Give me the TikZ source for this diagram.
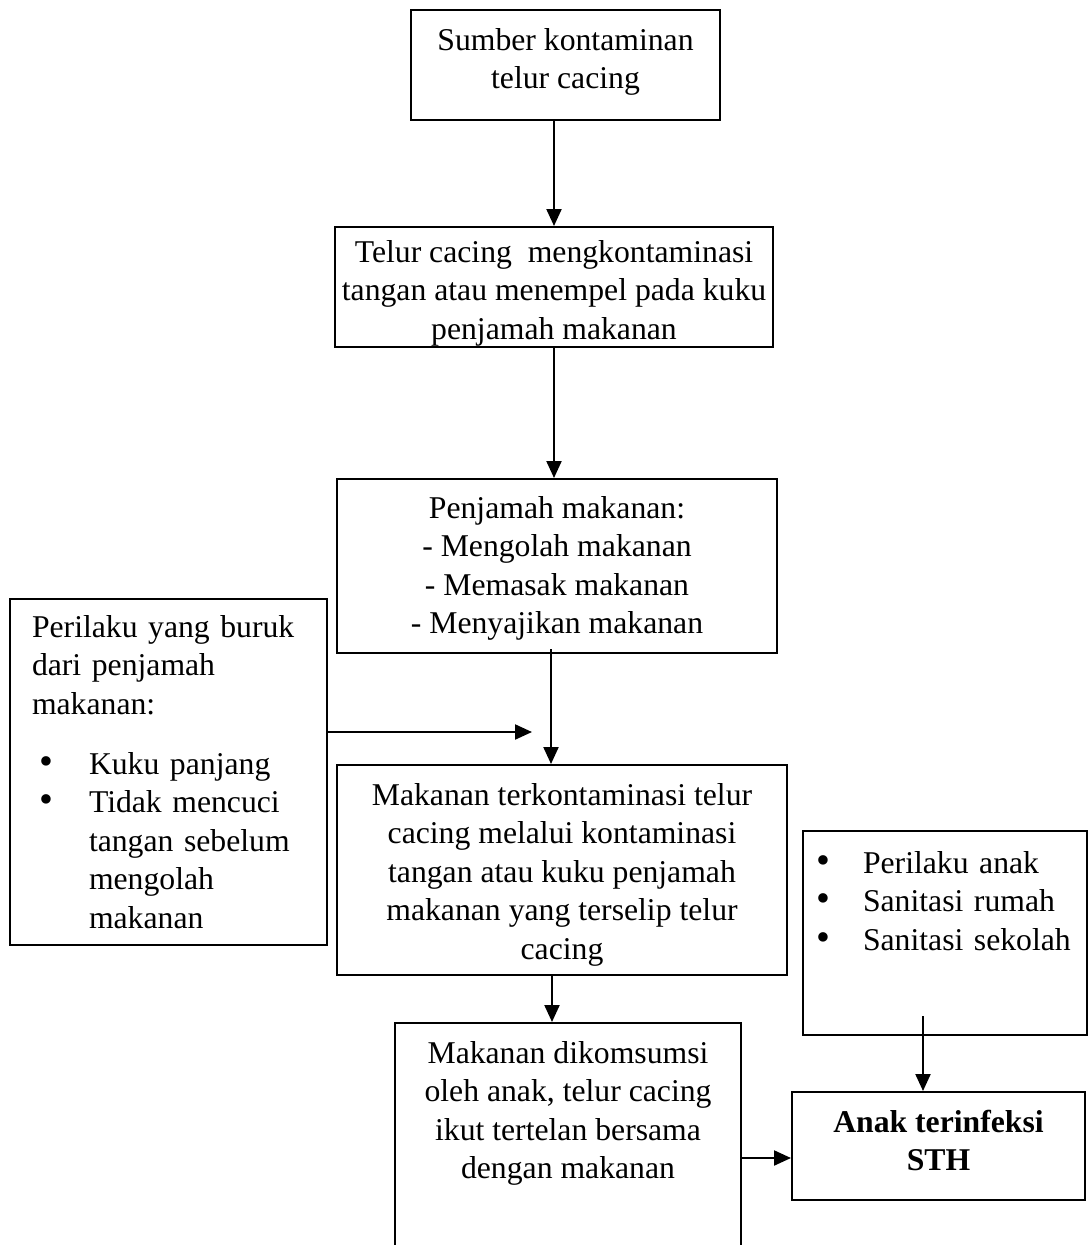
\documentclass[tikz,border=0pt]{standalone}
\usepackage{fontspec}
\setmainfont{Liberation Serif}
\usetikzlibrary{arrows.meta,calc}
\newcommand{\blt}[2]{\makebox[#2][l]{\hspace*{#1}\scalebox{1.25}{\textbullet}}}

\begin{document}
\begin{tikzpicture}[x=1pt, y=-1pt,
    every node/.style={font=\fontsize{31.7}{38.5}\selectfont},
    box/.style={draw, line width=2pt, inner ysep=0pt, anchor=base},
    cbox/.style={box, align=center, inner xsep=2pt},
    arr/.style={-{Triangle[length=17pt,width=15pt]}, line width=2.2pt}]
    \useasboundingbox (0,0) rectangle (1089,1245);
    \clip (0,0) rectangle (1089,1245);

    % main chain (placed at the baseline of the last line)
    \node[cbox, minimum width=309pt, text height=78.5pt, text depth=31.5pt] (src) at (565.5,88.5) {Sumber kontaminan\\telur cacing};
    \node[cbox, minimum width=438pt, text height=112pt, text depth=8pt] (hand) at (554,339) {Telur cacing\ \ mengkontaminasi\\tangan atau menempel pada kuku\\penjamah makanan};
    \node[cbox, minimum width=440pt, text height=154.5pt, text depth=19.5pt] (serve) at (557,633.5) {Penjamah makanan:\\- Mengolah makanan\\- Memasak makanan\\- Menyajikan makanan};
    \node[cbox, minimum width=450pt, text height=194pt, text depth=16pt] (food) at (562,959) {Makanan terkontaminasi telur\\cacing melalui kontaminasi\\tangan atau kuku penjamah\\makanan yang terselip telur\\cacing};
    \node[cbox, minimum width=346pt, text height=155.5pt, text depth=104.5pt] (eat) at (568,1178.5) {Makanan dikomsumsi\\oleh anak, telur cacing\\ikut tertelan bersama\\dengan makanan};
    \node[cbox, minimum width=293pt, text height=78.5pt, text depth=29.5pt, font=\fontsize{31.7}{38.5}\selectfont\bfseries] (sth) at (938.5,1170.5) {Anak terinfeksi\\STH};

    % side boxes
    \node[box, text width=273pt, inner xsep=22pt, align=left, text height=38pt, text depth=308pt] (behav) at (168.5,637) {Perilaku yang buruk\\dari penjamah\\makanan:\\[21.5pt]
        \blt{8pt}{57pt}Kuku panjang\\
        \blt{8pt}{57pt}Tidak mencuci\\
        \hspace*{57pt}tangan sebelum\\
        \hspace*{57pt}mengolah\\
        \hspace*{57pt}makanan};
    \node[box, text width=258pt, inner xsep=13pt, align=left, text height=42pt, text depth=162pt] (factors) at (945,873) {\blt{0pt}{47pt}Perilaku anak\\
        \blt{0pt}{47pt}Sanitasi rumah\\
        \blt{0pt}{47pt}Sanitasi sekolah};

    % arrows
    \draw[arr] (hand.north |- src.south) -- (hand.north);
    \draw[arr] (hand.south) -- (hand.south |- serve.north);
    \coordinate (s3) at ($(serve.south)+(-6,-5)$);
    \draw[arr] (s3) -- (s3 |- food.north);
    \coordinate (inlet) at (532,732);
    \draw[arr] (behav.east |- inlet) -- (inlet);
    \coordinate (f4) at ($(food.south)+(-10,0)$);
    \draw[arr] (f4) -- (f4 |- eat.north);
    \coordinate (e5) at ($(sth.west)+(0,12)$);
    \draw[arr] (eat.east |- e5) -- (e5);
    \coordinate (f6) at ($(factors.south)+(-22,-20)$);
    \draw[arr] (f6) -- (f6 |- sth.north);
\end{tikzpicture}
\end{document}
